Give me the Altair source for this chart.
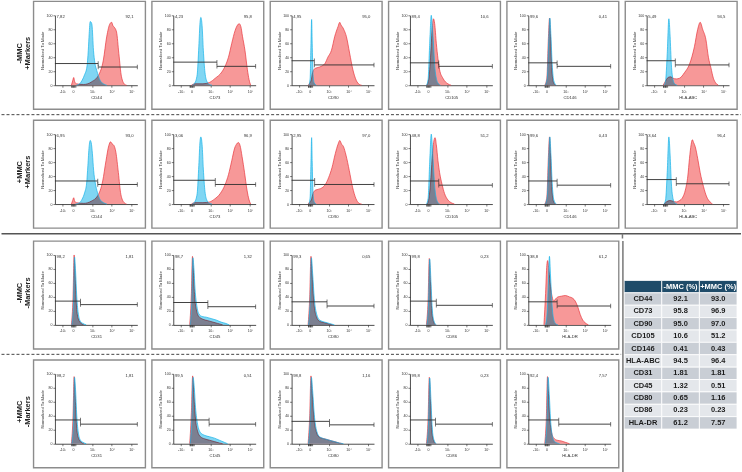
import altair as alt
import pandas as pd

FONT = "Liberation Sans, Arial, Helvetica, sans-serif"
NARROW = "Liberation Sans Narrow, Arial Narrow, Liberation Sans, sans-serif"

# ---------------- labels / axes ----------------
ROW_LABELS = ["-MMC\n+Markers", "+MMC\n+Markers", "-MMC\n-Markers", "+MMC\n-Markers"]
X_TICK_VALUES = [9, 22, 45, 69, 93]
X_TICK_LABELS = ["-10³", "0", "10³", "10⁴", "10⁵"]
X_MINOR = [19.5, 20.3, 21.0, 23.0, 23.7, 24.5]
Y_TICK_VALUES = [0, 20, 40, 60, 80, 100]
Y_TITLE = "Normalized To Mode"

# ---------------- histogram curves (display position, % of mode) ----------------
R1_CD44_RED = [(20, 0), (21.5, 6), (22.8, 11), (24, 5), (26, 2), (35, 1), (44.8, 5), (52.8, 14), (58.8, 36), (62.8, 69), (66.8, 88), (68.8, 90), (70.5, 85), (72, 83), (74.8, 76), (77.6, 45), (80.8, 12), (84.8, 1), (87, 0)]
R1_CD44_BLUE = [(26, 0), (30, 2), (33, 7), (36, 15), (38.8, 26), (40.5, 50), (41.6, 74), (42.8, 91), (44, 90), (45, 86), (46.8, 50), (48.5, 32), (50.8, 21), (54.8, 7), (58.8, 2), (63, 0)]
R1_CD73_RED = [(22, 0), (26, 2), (36, 2), (44, 4), (51, 10), (59, 19), (64, 30), (67, 40), (71, 60), (75, 78), (78, 86), (80, 88), (82, 84), (84, 70), (87, 50), (90, 22), (92, 8), (94, 0)]
R1_CD73_BLUE = [(23, 0), (26, 3), (29, 15), (31, 55), (32.5, 90), (33.5, 97), (35, 85), (36.5, 50), (38.5, 18), (41, 5), (44, 1), (47, 0)]
R1_CD90_RED = [(20, 0), (22, 3), (24, 8), (25.5, 18), (28.4, 24), (34, 26), (40.4, 31), (44, 40), (48.4, 50), (52.4, 70), (56.4, 84), (58.4, 90), (60, 86), (62.4, 82), (64, 78), (66.4, 70), (70.4, 46), (74.4, 22), (78.4, 7), (82.4, 1), (85, 0)]
R1_CD90_BLUE = [(21, 0), (22.5, 10), (23.5, 60), (24.3, 94), (25, 60), (26, 15), (27.5, 3), (30, 0)]
R1_CD105_RED = [(20.5, 0), (23, 10), (25, 40), (27, 80), (28.5, 95), (30, 88), (32, 60), (34, 38), (36, 22), (40, 10), (46, 2), (50, 0)]
R1_CD105_BLUE = [(20, 0), (22, 8), (24, 60), (25.9, 100), (27, 85), (28, 70), (30.7, 20), (34, 3), (37, 0)]
R1_CD146_RED = [(20, 0), (22.5, 10), (24.5, 70), (25.8, 96), (27, 70), (28.5, 25), (30.5, 4), (33, 0)]
R1_CD146_BLUE = [(20.5, 0), (23, 10), (25, 70), (26.2, 96), (27.5, 70), (29, 30), (31, 6), (34, 0)]
R1_HLAABC_RED = [(20, 0), (23, 6), (26, 11), (29, 12), (32, 10), (36, 9), (40, 10), (46, 18), (52, 30), (58, 55), (62, 80), (65, 90), (68, 80), (72, 65), (75, 40), (78, 25), (81, 10), (84, 3), (87, 0)]
R1_HLAABC_BLUE = [(21, 0), (23, 6), (25, 45), (27, 95), (28.5, 70), (30, 30), (32, 8), (34, 2), (37, 0)]

R2_CD44_RED = [(20, 0), (21.5, 5), (22.8, 9), (24, 4), (26, 2), (35, 1), (44, 4), (52, 12), (58, 33), (62, 62), (65.5, 84), (67.5, 89), (69.5, 86), (71.5, 84), (74, 74), (77, 45), (80, 14), (84, 2), (87, 0)]
R2_CD44_BLUE = [(25, 0), (30, 2), (33, 7), (36, 16), (38.5, 30), (40, 55), (41.5, 82), (42.8, 91), (44, 88), (45.5, 72), (47, 48), (49, 30), (51.5, 17), (55, 6), (59, 2), (63, 0)]
R2_CD73_RED = [(22, 0), (26, 2), (36, 2), (44, 3), (50, 7), (57, 15), (63, 28), (67, 42), (71, 62), (74.5, 80), (77, 86), (79, 88), (81, 84), (83.5, 68), (86.5, 45), (89.5, 20), (92, 6), (94, 0)]
R2_CD73_BLUE = [(23, 0), (26, 3), (29, 15), (31, 55), (32.5, 90), (33.5, 96), (35, 85), (36.5, 50), (38.5, 18), (41, 5), (44, 1), (47, 0)]
R2_CD90_RED = [(20, 0), (22, 3), (24, 6), (26, 15), (29, 20), (35, 22), (41, 28), (45, 38), (49, 52), (53, 72), (56.5, 86), (58.5, 91), (60.5, 86), (63, 82), (66, 70), (70, 48), (74, 24), (78, 8), (82, 1), (85, 0)]
R2_CD90_BLUE = [(21, 0), (22.5, 10), (23.5, 60), (24.3, 95), (25, 60), (26, 15), (27.5, 3), (30, 0)]
R2_CD105_RED = [(21, 0), (23, 8), (25, 30), (27, 65), (29, 90), (30.5, 95), (32, 85), (34, 62), (36, 45), (39, 28), (42, 15), (46, 6), (50, 2), (54, 0)]
R2_CD105_BLUE = [(20, 0), (22, 8), (24, 60), (25.9, 100), (27, 85), (28, 65), (30.5, 20), (33.5, 3), (36, 0)]
R2_CD146_RED = [(20, 0), (22.5, 10), (24.5, 70), (25.8, 96), (27, 70), (28.5, 25), (30.5, 4), (33, 0)]
R2_CD146_BLUE = [(20.5, 0), (23, 10), (25, 70), (26.2, 96), (27.5, 70), (29, 30), (31, 6), (34, 0)]
R2_HLAABC_RED = [(21, 0), (24, 3), (28, 5), (32, 4), (36, 3), (40, 5), (44, 10), (47, 20), (50, 40), (52, 65), (54, 85), (55.5, 92), (57, 88), (59, 82), (62, 65), (65, 45), (69, 25), (73, 10), (77, 3), (80, 0)]
R2_HLAABC_BLUE = [(21, 0), (23, 6), (25, 45), (27, 96), (28.5, 70), (30, 30), (32, 8), (34, 2), (37, 0)]

R3_CD31_RED = [(20, 0), (22, 40), (23.3, 100), (24.5, 70), (26, 30), (28, 10), (31, 3), (35, 0)]
R3_CD31_BLUE = [(20.5, 0), (22.5, 30), (23.8, 97), (25, 78), (26.5, 40), (28.5, 15), (31, 5), (34, 2), (38, 0)]
R3_CD45_RED = [(20, 0), (22, 45), (23.3, 98), (24.5, 75), (26, 40), (28, 22), (31, 12), (36, 8), (42, 6), (48, 4), (54, 2), (60, 0)]
R3_CD45_BLUE = [(20.5, 0), (22.5, 35), (23.8, 96), (25, 82), (26.5, 50), (28.5, 28), (31, 16), (35, 12), (40, 11), (46, 9), (52, 7), (58, 4), (64, 2), (68, 0)]
R3_CD80_RED = [(20, 0), (22, 40), (23.5, 98), (25, 70), (27, 32), (30, 12), (34, 5), (40, 3), (46, 1), (50, 0)]
R3_CD80_BLUE = [(20.5, 0), (22.5, 35), (24, 96), (25.5, 74), (27.5, 38), (30.5, 15), (34, 7), (40, 4), (46, 2), (52, 0)]
R3_CD86_RED = [(20, 0), (22, 35), (23.5, 95), (25, 60), (26.5, 20), (28.5, 5), (31, 0)]
R3_CD86_BLUE = [(20.5, 0), (22.5, 30), (24, 94), (25.5, 62), (27, 24), (29, 6), (32, 0)]
R3_HLADR_RED = [(19, 0), (21, 45), (22.5, 85), (23.5, 92), (25, 78), (27, 55), (29, 40), (31, 34), (33, 37), (36, 40), (40, 41), (45, 42), (50, 40), (54, 38), (57, 34), (60, 26), (63, 15), (66, 7), (69, 3), (73, 0)]
R3_HLADR_BLUE = [(21, 0), (23, 20), (24.5, 65), (25.7, 98), (27, 70), (28.5, 35), (30.5, 10), (33, 2), (36, 0)]

R4_CD31_RED = [(20, 0), (22, 40), (23.3, 96), (24.5, 70), (26, 30), (28, 10), (31, 3), (35, 0)]
R4_CD31_BLUE = [(20.5, 0), (22.5, 30), (23.8, 95), (25, 78), (26.5, 40), (28.5, 15), (31, 5), (34, 2), (38, 0)]
R4_CD45_RED = [(20, 0), (22, 45), (23.5, 97), (25, 70), (27, 35), (29.5, 18), (33, 10), (38, 7), (44, 5), (50, 3), (56, 1), (60, 0)]
R4_CD45_BLUE = [(20.5, 0), (22.5, 35), (24, 95), (25.5, 80), (27, 52), (29.5, 28), (33, 16), (38, 12), (44, 10), (50, 8), (56, 5), (62, 2), (66, 0)]
R4_CD80_RED = [(20, 0), (22, 40), (23.5, 97), (25, 72), (27, 38), (30, 17), (34, 9), (40, 7), (46, 5), (52, 3), (58, 1), (62, 0)]
R4_CD80_BLUE = [(20.5, 0), (22.5, 35), (24, 95), (25.5, 76), (27.5, 42), (30.5, 18), (34, 10), (40, 7), (46, 5), (52, 3), (58, 1), (63, 0)]
R4_CD86_RED = [(20, 0), (22, 35), (23.5, 95), (25, 60), (26.5, 20), (28.5, 5), (31, 0)]
R4_CD86_BLUE = [(20.5, 0), (22.5, 30), (24, 94), (25.5, 62), (27, 24), (29, 6), (32, 0)]
R4_HLADR_RED = [(20, 0), (22, 40), (23.3, 96), (24.5, 72), (26, 38), (28, 18), (31, 8), (35, 5), (40, 4), (45, 2), (50, 0)]
R4_HLADR_BLUE = [(20.5, 0), (22.5, 30), (24, 95), (25.5, 70), (27, 35), (29, 12), (32, 3), (35, 1), (38, 0)]

# ---------------- per-row panel descriptions ----------------
ROW1_MARKERS = ["CD44", "CD73", "CD90", "CD105", "CD146", "HLA-ABC"]
ROW1_LEFT = ["7,82", "4,23", "4,95", "89,4", "99,6", "5,49"]
ROW1_RIGHT = ["92,1", "95,8", "95,0", "10,6", "0,41", "94,5"]
ROW1_GATES = [(52.5, 31, 26), (53, 33, 27), (27.6, 35, 29), (35, 32, 27), (35, 32, 27), (34.8, 35, 29)]
ROW1_RED = [R1_CD44_RED, R1_CD73_RED, R1_CD90_RED, R1_CD105_RED, R1_CD146_RED, R1_HLAABC_RED]
ROW1_BLUE = [R1_CD44_BLUE, R1_CD73_BLUE, R1_CD90_BLUE, R1_CD105_BLUE, R1_CD146_BLUE, R1_HLAABC_BLUE]

ROW2_MARKERS = ["CD44", "CD73", "CD90", "CD105", "CD146", "HLA-ABC"]
ROW2_LEFT = ["6,95", "3,06", "2,95", "48,8", "99,6", "3,64"]
ROW2_RIGHT = ["93,0", "96,9", "97,0", "51,2", "0,43", "96,4"]
ROW2_GATES = [(52, 33, 28), (51, 34, 28), (28, 34, 28), (35, 33, 27), (35, 33, 27), (36, 35, 29)]
ROW2_RED = [R2_CD44_RED, R2_CD73_RED, R2_CD90_RED, R2_CD105_RED, R2_CD146_RED, R2_HLAABC_RED]
ROW2_BLUE = [R2_CD44_BLUE, R2_CD73_BLUE, R2_CD90_BLUE, R2_CD105_BLUE, R2_CD146_BLUE, R2_HLAABC_BLUE]

ROW3_MARKERS = ["CD31", "CD45", "CD80", "CD86", "HLA-DR"]
ROW3_LEFT = ["98,2", "98,7", "99,3", "99,8", "38,8"]
ROW3_RIGHT = ["1,81", "1,32", "0,65", "0,23", "61,2"]
ROW3_GATES = [(31, 34, 29), (42, 32, 26), (43, 33, 27), (32, 34, 28), (35, 33, 27)]
ROW3_RED = [R3_CD31_RED, R3_CD45_RED, R3_CD80_RED, R3_CD86_RED, R3_HLADR_RED]
ROW3_BLUE = [R3_CD31_BLUE, R3_CD45_BLUE, R3_CD80_BLUE, R3_CD86_BLUE, R3_HLADR_BLUE]

ROW4_MARKERS = ["CD31", "CD45", "CD80", "CD86", "HLA-DR"]
ROW4_LEFT = ["98,2", "99,5", "98,8", "99,8", "92,4"]
ROW4_RIGHT = ["1,81", "0,51", "1,16", "0,23", "7,57"]
ROW4_GATES = [(31, 34, 28), (43.5, 34, 28), (46, 32, 27), (31, 34, 28), (37, 34, 28)]
ROW4_RED = [R4_CD31_RED, R4_CD45_RED, R4_CD80_RED, R4_CD86_RED, R4_HLADR_RED]
ROW4_BLUE = [R4_CD31_BLUE, R4_CD45_BLUE, R4_CD80_BLUE, R4_CD86_BLUE, R4_HLADR_BLUE]

# ---------------- summary table ----------------
TABLE_HEADER = ["", "-MMC (%)", "+MMC (%)"]
TABLE_MARKERS = ["CD44", "CD73", "CD90", "CD105", "CD146", "HLA-ABC", "CD31", "CD45", "CD80", "CD86", "HLA-DR"]
TABLE_MINUS = ["92.1", "95.8", "95.0", "10.6", "0.41", "94.5", "1.81", "1.32", "0.65", "0.23", "61.2"]
TABLE_PLUS = ["93.0", "96.9", "97.0", "51.2", "0.43", "96.4", "1.81", "0.51", "1.16", "0.23", "7.57"]

# ---------------- styling ----------------
PW, PH = 112, 108
RED_FILL, RED_LINE = "#f47575", "#e8363c"
BLUE_FILL, BLUE_LINE = "#5ccbf0", "#17b2e8"
GATE = "#2e2e2e"
AX = "#222222"
PLAIN = alt.ViewBackground(fill="white", stroke="transparent", strokeWidth=0)

XS = alt.Scale(domain=[0, 100], range=[21.5, 104])
YS = alt.Scale(domain=[0, 100], range=[84, 14])

label_expr = "".join(f"datum.value == {v} ? '{l}' : " for v, l in zip(X_TICK_VALUES, X_TICK_LABELS)) + "''"


def x_enc(title):
    return alt.X("d:Q", scale=XS, axis=alt.Axis(
        values=X_TICK_VALUES + X_MINOR, labelExpr=label_expr, title=title, offset=-24,
        tickSize=2, tickWidth=0.6, tickColor=AX, domainColor=AX, domainWidth=0.8,
        labelFont=FONT, labelFontSize=3.6, labelColor="#333", labelPadding=2,
        labelOverlap=False, labelFlush=False, grid=False,
        titleFont=FONT, titleFontSize=4.2, titleFontWeight="normal", titleColor="#333",
        titlePadding=2.5))


def y_enc():
    return alt.Y("v:Q", scale=YS, axis=alt.Axis(
        values=Y_TICK_VALUES, title=Y_TITLE, offset=-21.5,
        tickSize=2, tickWidth=0.6, tickColor=AX, domainColor=AX, domainWidth=0.8,
        labelFont=FONT, labelFontSize=3.6, labelColor="#333", labelPadding=1,
        labelOverlap=False, grid=False,
        titleFont=FONT, titleFontSize=4.2, titleFontWeight="normal", titleColor="#333",
        titlePadding=1.5))


def panel(marker, lp, rp, red, blue, gate):
    g, yl, yr = gate
    red_df = pd.DataFrame(red, columns=["d", "v"])
    blue_df = pd.DataFrame(blue, columns=["d", "v"])
    red_layer = alt.Chart(red_df).mark_area(
        color=RED_FILL, opacity=0.75, interpolate="monotone",
        line=alt.OverlayMarkDef(color=RED_LINE, strokeWidth=0.7, opacity=1, interpolate="monotone"),
    ).encode(x=x_enc(marker), y=y_enc(), y2=alt.datum(0))
    blue_layer = alt.Chart(blue_df).mark_area(
        color=BLUE_FILL, opacity=0.78, interpolate="monotone", blend="multiply",
        line=alt.OverlayMarkDef(color=BLUE_LINE, strokeWidth=0.7, opacity=1, interpolate="monotone"),
    ).encode(x=x_enc(marker), y=y_enc(), y2=alt.datum(0))
    gate_df = pd.DataFrame({"d": [0, g], "d2": [g, 100], "v": [yl, yr]})
    gates = alt.Chart(gate_df).mark_rule(color=GATE, strokeWidth=0.9).encode(
        x=x_enc(marker), x2="d2:Q", y=y_enc())
    cap_df = pd.DataFrame({"d": [g, g, 100], "v": [yl, yr, yr]})
    caps = alt.Chart(cap_df).mark_tick(orient="vertical", size=4.5, thickness=0.9, color=GATE).encode(
        x=x_enc(marker), y=y_enc())
    lt = alt.Chart(pd.DataFrame({"d": [2], "v": [97], "t": [lp]})).mark_text(
        align="left", baseline="middle", font=FONT, fontSize=4.2, color="#333").encode(
        x=x_enc(marker), y=y_enc(), text="t:N")
    rt = alt.Chart(pd.DataFrame({"d": [95.5], "v": [97], "t": [rp]})).mark_text(
        align="right", baseline="middle", font=FONT, fontSize=4.2, color="#333").encode(
        x=x_enc(marker), y=y_enc(), text="t:N")
    return alt.layer(red_layer, blue_layer, gates, caps, lt, rt).properties(width=PW, height=PH)


def row_chart(label, markers, lefts, rights, reds, blues, gates):
    lab = alt.Chart(pd.DataFrame({"t": [label]})).mark_text(
        angle=270, lineBreak="\n", font=FONT, fontSize=7.5, fontWeight="bold", color="#222",
        align="center", baseline="middle", lineHeight=8.5,
    ).encode(text="t:N", x=alt.value(19), y=alt.value(52)).properties(width=25.5, height=PH, view=PLAIN)
    panels = [panel(*args) for args in zip(markers, lefts, rights, reds, blues, gates)]
    return alt.hconcat(lab, *panels, spacing=6.5, bounds="flush")


def divider(width, x_end, dashed):
    kw = dict(color="#444", strokeWidth=1)
    if dashed:
        kw["strokeDash"] = [3, 2]
    return alt.Chart(pd.DataFrame({"a": [0]})).mark_rule(**kw).encode(
        x=alt.value(0.5), x2=alt.value(x_end), y=alt.value(0.5)).properties(width=width, height=1, view=PLAIN)


row1 = row_chart(ROW_LABELS[0], ROW1_MARKERS, ROW1_LEFT, ROW1_RIGHT, ROW1_RED, ROW1_BLUE, ROW1_GATES)
row2 = row_chart(ROW_LABELS[1], ROW2_MARKERS, ROW2_LEFT, ROW2_RIGHT, ROW2_RED, ROW2_BLUE, ROW2_GATES)
row3 = row_chart(ROW_LABELS[2], ROW3_MARKERS, ROW3_LEFT, ROW3_RIGHT, ROW3_RED, ROW3_BLUE, ROW3_GATES)
row4 = row_chart(ROW_LABELS[3], ROW4_MARKERS, ROW4_LEFT, ROW4_RIGHT, ROW4_RED, ROW4_BLUE, ROW4_GATES)

# solid separator block with the start of the vertical table rule
blk_df = pd.DataFrame({"a": [0]})
blk_h = alt.Chart(blk_df).mark_rule(color="#555", strokeWidth=1.4).encode(
    x=alt.value(0.5), x2=alt.value(741), y=alt.value(4.7))
blk_v = alt.Chart(blk_df).mark_rule(color="#777", strokeWidth=1.5).encode(
    x=alt.value(622.3), y=alt.value(4.7), y2=alt.value(9.5))
block = alt.layer(blk_h, blk_v).properties(width=741, height=9.5, view=PLAIN)

# table
t_rows = ["hdr"] + TABLE_MARKERS
cells = []
for j, h in enumerate(TABLE_HEADER):
    cells.append({"row": "hdr", "col": str(j), "txt": h, "fill": "#1f4b69", "tc": "white"})
for i, m in enumerate(TABLE_MARKERS):
    fill = "#c9ced5" if i % 2 == 0 else "#e4e7eb"
    for j, txt in enumerate([m, TABLE_MINUS[i], TABLE_PLUS[i]]):
        cells.append({"row": m, "col": str(j), "txt": txt, "fill": fill, "tc": "#1c1c1c"})
tdf = pd.DataFrame(cells)
tx = alt.X("col:N", scale=alt.Scale(domain=["0", "1", "2"], range=[2, 115], paddingInner=0, paddingOuter=0), axis=None)
ty = alt.Y("row:N", scale=alt.Scale(domain=t_rows, range=[39.5, 188.3], paddingInner=0, paddingOuter=0), axis=None)
t_rect = alt.Chart(tdf).mark_rect(stroke="white", strokeWidth=0.8).encode(
    x=tx, y=ty, color=alt.Color("fill:N", scale=None))
t_text = alt.Chart(tdf).mark_text(font=NARROW, fontSize=7.5, fontWeight="bold").encode(
    x=tx, y=ty, text="txt:N", color=alt.Color("tc:N", scale=None))
t_line = alt.Chart(pd.DataFrame({"a": [0]})).mark_rule(color="#777", strokeWidth=1.5).encode(
    x=alt.value(0.75), y=alt.value(0), y2=alt.value(233))
table = alt.layer(t_rect, t_text, t_line).properties(width=120, height=226, view=PLAIN)

top = alt.vconcat(row1, divider(741, 741, True), row2, spacing=4)
bottom_left = alt.vconcat(row3, divider(617, 621, True), row4, spacing=4)
bottom = alt.hconcat(bottom_left, table, spacing=0)

chart = alt.vconcat(top, block, bottom, spacing=0).properties(
    padding={"left": 0, "right": 0, "top": 0, "bottom": 0},
    background="white",
).configure_view(stroke="#8c8c8c", strokeWidth=1.4)

chart.save("out.html", embed_options={"renderer": "svg", "actions": False})
